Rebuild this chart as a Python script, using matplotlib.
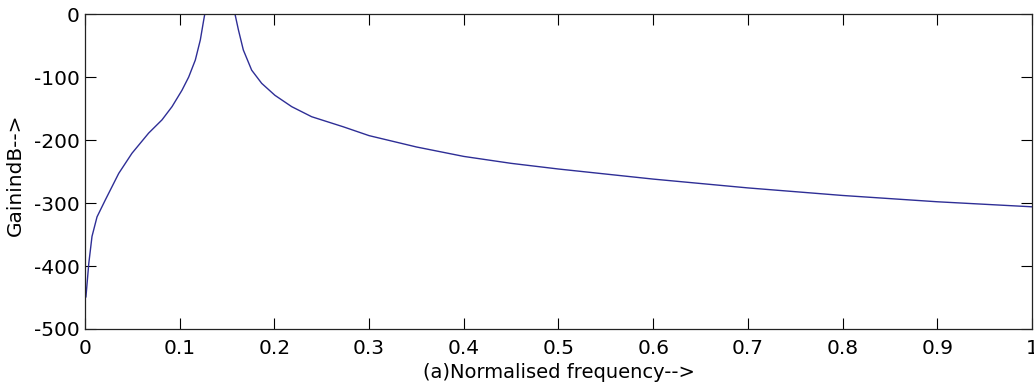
import numpy as np
import matplotlib
matplotlib.use("Agg")
import matplotlib.pyplot as plt

# values (normalised frequency, gain in dB)
freq_low = [0.001, 0.004, 0.0074, 0.0127, 0.0215, 0.0356, 0.0496, 0.0672, 0.0813,
            0.0919, 0.1024, 0.1095, 0.1165, 0.1218, 0.1253, 0.1265]
gain_low = [-449, -396, -353, -322, -295, -253, -221, -189, -168,
            -147, -121, -100, -73, -41, -10, 0]

freq_high = [0.1584, 0.162, 0.1672, 0.176, 0.1866, 0.2006, 0.2183, 0.2394, 0.2728,
             0.300, 0.350, 0.400, 0.450, 0.500, 0.550, 0.600,
             0.650, 0.700, 0.750, 0.800, 0.850, 0.900, 0.950, 1.000]
gain_high = [0, -25, -57, -89, -110, -129, -147, -163, -179,
             -193, -211, -226, -237, -246, -254, -262,
             -269, -276, -282, -288, -293, -298, -302, -306]

xticks = [0, 0.1, 0.2, 0.3, 0.4, 0.5, 0.6, 0.7, 0.8, 0.9, 1]
xticklabels = ["0", "0.1", "0.2", "0.3", "0.4", "0.5", "0.6", "0.7", "0.8", "0.9", "1"]
yticks = [-500, -400, -300, -200, -100, 0]

plt.rcParams['font.family'] = ['DejaVu Sans']
plt.rcParams['axes.unicode_minus'] = False

fig = plt.figure(figsize=(10.34, 3.91), dpi=100)
ax = fig.add_axes([0.0822, 0.1586, 0.9158, 0.8054])

col = '#2e2e96'
ax.plot(freq_low, gain_low, color=col, lw=1.0)
ax.plot(freq_high, gain_high, color=col, lw=1.0)

ax.set_xlim(0, 1)
ax.set_ylim(-500, 0)
ax.set_xticks(xticks)
ax.set_xticklabels(xticklabels)
ax.set_yticks(yticks)
ax.tick_params(direction='in', length=8, width=0.8, top=True, right=True,
               labelsize=14.5)
ax.tick_params(axis='x', pad=7)
ax.tick_params(axis='y', pad=4)
for s in ax.spines.values():
    s.set_linewidth(0.9)
    s.set_color('#222222')

ax.set_xlabel('(a)Normalised frequency-->', fontsize=14, labelpad=4)
ax.set_ylabel('GainindB-->', fontsize=14.5)
ax.yaxis.set_label_coords(-0.063, 0.49)

fig.savefig('out.png', dpi=100)
